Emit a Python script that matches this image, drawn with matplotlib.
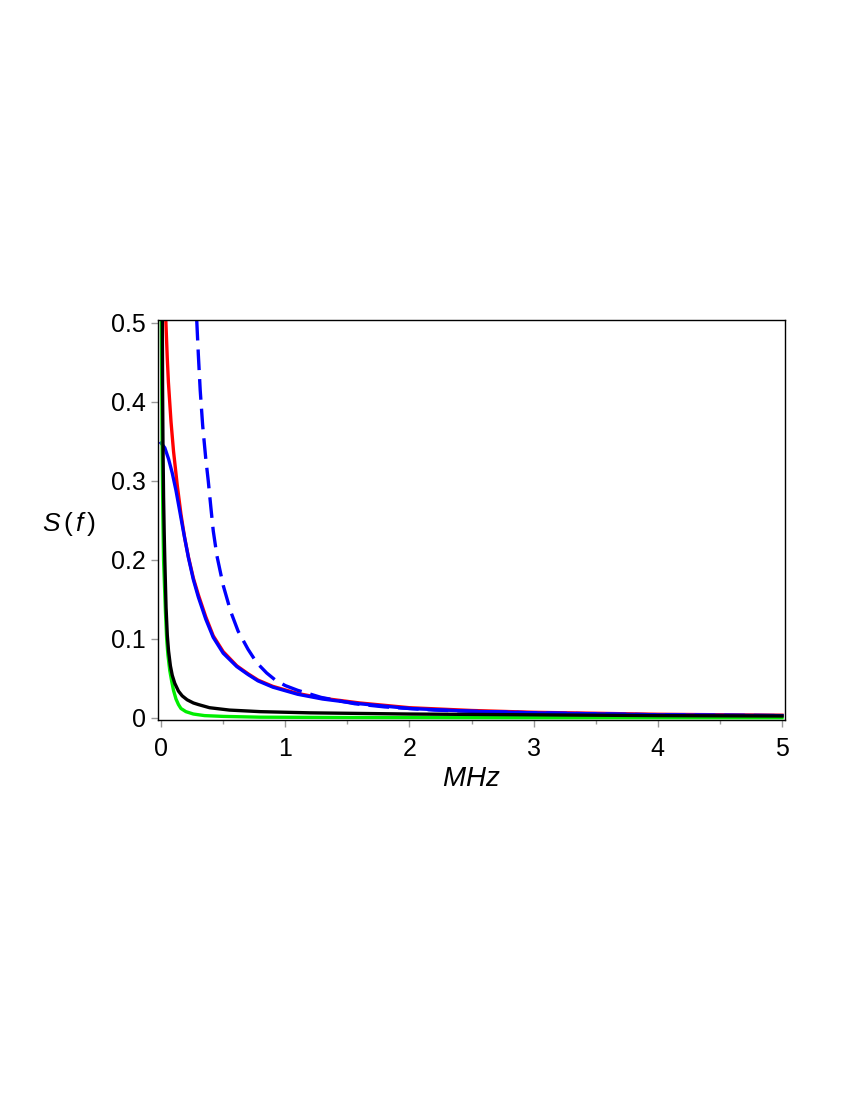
import matplotlib.pyplot as plt

# values (f in MHz, S(f))
f_red = [0.038, 0.05, 0.059, 0.08, 0.10, 0.13, 0.16, 0.19, 0.22, 0.26, 0.30, 0.36, 0.42, 0.50, 0.61, 0.70, 0.78, 0.90, 1.1, 1.3, 1.6, 2.0, 2.5, 3.0, 4.0, 5.0]
s_red = [0.504, 0.455, 0.425, 0.375, 0.338, 0.295, 0.258, 0.228, 0.204, 0.177, 0.156, 0.128, 0.104, 0.084, 0.066, 0.056, 0.048, 0.040, 0.031, 0.025, 0.019, 0.013, 0.0095, 0.0072, 0.0047, 0.0035]

f_blue = [0.0, 0.03, 0.06, 0.09, 0.12, 0.15, 0.18, 0.22, 0.26, 0.30, 0.36, 0.42, 0.50, 0.61, 0.70, 0.78, 0.90, 1.1, 1.3, 1.6, 2.0, 2.5, 3.0, 4.0, 5.0]
s_blue = [0.348, 0.342, 0.328, 0.31, 0.288, 0.262, 0.236, 0.203, 0.175, 0.153, 0.125, 0.102, 0.082, 0.065, 0.055, 0.047, 0.039, 0.030, 0.024, 0.018, 0.012, 0.0085, 0.0065, 0.004, 0.003]

f_dash = [0.287, 0.30, 0.315, 0.335, 0.36, 0.38, 0.40, 0.42, 0.45, 0.50, 0.56, 0.62, 0.70, 0.77, 0.85, 0.92, 1.0, 1.1, 1.29, 1.56, 1.8, 2.2, 2.5, 3.0, 4.0, 5.0]
s_dash = [0.504, 0.46, 0.415, 0.37, 0.328, 0.30, 0.268, 0.237, 0.205, 0.168, 0.135, 0.11, 0.087, 0.07, 0.057, 0.048, 0.041, 0.035, 0.026, 0.018, 0.014, 0.010, 0.0085, 0.0065, 0.004, 0.003]

f_black = [0.010, 0.012, 0.015, 0.02, 0.025, 0.03, 0.04, 0.05, 0.06, 0.075, 0.09, 0.11, 0.14, 0.17, 0.21, 0.26, 0.30, 0.39, 0.55, 0.8, 1.2, 2.0, 3.0, 4.0, 5.0]
s_black = [0.504, 0.42, 0.35, 0.28, 0.235, 0.20, 0.14, 0.105, 0.085, 0.066, 0.054, 0.044, 0.034, 0.028, 0.023, 0.019, 0.017, 0.013, 0.010, 0.008, 0.0065, 0.005, 0.004, 0.003, 0.0025]

f_green = [0.002, 0.008, 0.014, 0.02, 0.028, 0.035, 0.045, 0.055, 0.07, 0.086, 0.10, 0.12, 0.14, 0.16, 0.20, 0.26, 0.35, 0.5, 0.8, 1.5, 3.0, 5.0]
s_green = [0.504, 0.35, 0.26, 0.20, 0.165, 0.135, 0.10, 0.08, 0.06, 0.046, 0.035, 0.024, 0.017, 0.012, 0.008, 0.005, 0.003, 0.002, 0.001, 0.0006, 0.0004, 0.0003]

plt.rcParams['font.family'] = ['Liberation Sans', 'DejaVu Sans']
plt.rcParams['mathtext.fontset'] = 'custom'
plt.rcParams['mathtext.rm'] = 'Liberation Sans'
plt.rcParams['mathtext.it'] = 'Liberation Sans:italic'

fig = plt.figure(figsize=(8.5, 11), dpi=100)
ax = fig.add_axes([0.186, 0.3455, 0.7375, 0.3636])

lw = 2.4
ax.plot(f_red, s_red, color='#ff0000', lw=lw)
ax.plot(f_blue, s_blue, color='#0000ff', lw=lw)
ax.plot(f_dash, s_dash, color='#0000ff', lw=lw, linestyle=(0, (6.2, 2.7)))
ax.plot(f_green, s_green, color='#00ee00', lw=lw)
ax.plot(f_black, s_black, color='black', lw=lw)

ax.set_xlim(-0.024, 5.024)
ax.set_ylim(-0.0025, 0.5038)
ax.set_xticks([0, 1, 2, 3, 4, 5])
ax.set_xticks([0.5, 1.5, 2.5, 3.5, 4.5], minor=True)
ax.set_xticklabels(['0', '1', '2', '3', '4', '5'])
ax.set_yticks([0, 0.1, 0.2, 0.3, 0.4, 0.5])
ax.set_yticklabels(['0', '0.1', '0.2', '0.3', '0.4', '0.5'])
ax.tick_params(which='both', direction='out', color='#999999', labelsize=18)
ax.tick_params(axis='x', which='major', length=5, width=1, pad=7)
ax.tick_params(axis='y', which='major', length=5, width=1, pad=4)
ax.tick_params(which='minor', length=3, width=1)
for sp in ax.spines.values():
    sp.set_linewidth(1.0)

ax.set_xlabel('$MHz$', fontsize=20, labelpad=4)
fig.text(0.050, 0.524, '$S\\,(\\,f\\,)$', fontsize=19, va='center', ha='left')

plt.savefig('out.png', dpi=100)
